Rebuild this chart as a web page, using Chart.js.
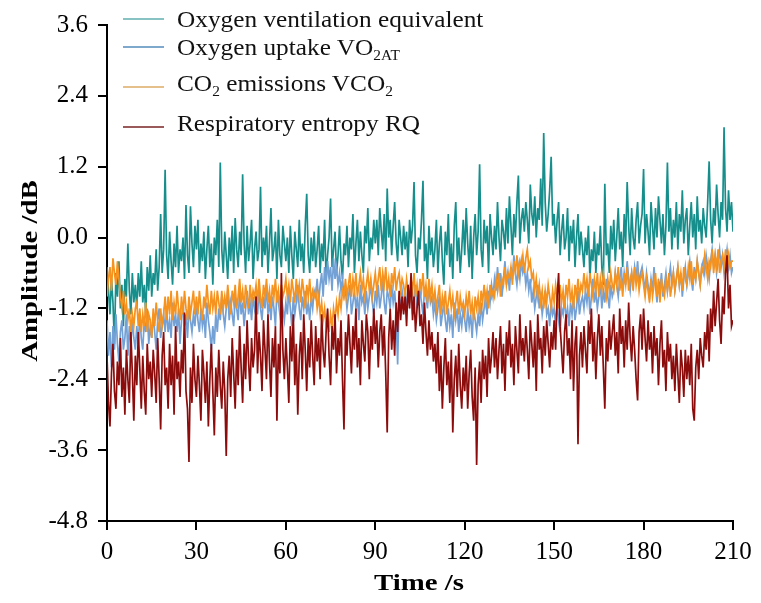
<!DOCTYPE html>
<html>
<head>
<meta charset="utf-8">
<script src="https://cdn.jsdelivr.net/npm/chart.js@4/dist/chart.umd.min.js"></script>
<style>
    body { margin: 0; background: #fff; }
    #wrap { position: relative; width: 761px; height: 603px; }
    #legend { position: absolute; left: 0; top: 0; font-family: "Liberation Serif", "Times New Roman", serif; font-size: 23px; color: #111; }
    .row { position: absolute; left: 177px; white-space: nowrap; line-height: 23px; transform: scaleX(1.1); transform-origin: left; }
    .row sub { font-size: 14px; line-height: 0; vertical-align: -5px; }
    .swatch { position: absolute; left: 123px; width: 41px; height: 1.5px; }
</style>
</head>
<body>
<div id="wrap">
    <canvas id="myChart" width="761" height="603"></canvas>
    <div id="legend">
        <div class="swatch" style="top:18px;background:#88c2c2"></div>
        <div class="row" style="top:8px">Oxygen ventilation equivalent</div>
        <div class="swatch" style="top:46px;background:#7ea9cc"></div>
        <div class="row" style="top:36px">Oxygen uptake VO<sub>2AT</sub></div>
        <div class="swatch" style="top:86px;background:#e6c08a"></div>
        <div class="row" style="top:72px">CO<sub>2</sub> emissions VCO<sub>2</sub></div>
        <div class="swatch" style="top:126px;background:#9a5a5a"></div>
        <div class="row" style="top:112px">Respiratory entropy RQ</div>
    </div>
</div>
<script>
// tick labels
const xTickLabels = ['0', '30', '60', '90', '120', '150', '180', '210'];
const yTickLabels = ['-4.8', '-3.6', '-2.4', '-1.2', '0.0', '1.2', '2.4', '3.6'];
const xTitle = 'Time /s';
const yTitle = 'Amplitude /dB';

// one sample every 0.5 s, 0..210 s (each row below = 10 s)
const time = Array.from({ length: 421 }, (_, i) => i * 0.5);

// Oxygen ventilation equivalent (teal)
const ventilation = [
    -0.5, -0.9, -1.3, -0.7, -1.1, -1.8, -0.6, -1.0, -0.4, -1.2, -0.8, -1.5, -0.7, -1.0, -0.1, -0.9, -1.3, -0.6, -1.1, -0.8,
    -1.2, -0.6, -1.0, -0.4, -1.1, -0.8, -1.3, -0.5, -0.9, -0.3, -1.0, -0.6, -0.8, -0.2, -0.9, -0.5, 0.4, -0.6, -0.2, 1.15,
    -0.3, -0.7, 0.1, -0.4, -0.8, -0.1, -0.5, 0.2, -0.6, -0.2, -0.4, 0.0, -0.7, 0.55, -0.3, -0.6, 0.53, -0.1, -0.5, 0.2,
    -0.2, 0.3, -0.6, -0.1, -0.4, 0.1, -0.7, -0.2, 0.2, -0.5, -0.1, -0.8, 0.0, -0.3, 0.3, -0.5, 1.27, -0.2, -0.6, 0.1,
    -0.3, -0.7, 0.0, -0.4, 0.2, -0.6, 0.33, -0.2, -0.5, 0.1, -0.3, 1.07, -0.1, -0.6, 0.2, -0.4, -0.1, 0.3, -0.7, -0.2,
    0.1, -0.4, -0.2, 0.86, -0.5, 0.0, -0.3, 0.2, -0.6, -0.1, 0.5, -0.4, -0.2, 0.1, -0.7, 0.3, -0.3, -0.5, 0.2, -0.1,
    -0.4, 0.0, -0.6, 0.2, -0.3, -0.7, 0.1, -0.2, -0.5, 0.3, -0.4, -0.1, -0.6, 0.2, 0.74, -0.3, -0.6, 0.0, -0.4, 0.1,
    -0.5, -0.2, 0.2, -0.6, -0.1, -0.4, 0.3, -0.7, -0.3, 0.0, 0.66, -0.5, -0.2, 0.1, -0.6, -0.3, 0.2, -0.4, -0.7, -0.1,
    -0.3, 0.2, -0.5, 0.0, -0.2, 0.4, -0.6, -0.1, 0.3, -0.4, 0.1, -0.3, -0.6, 0.2, -0.1, 0.5, -0.4, 0.0, -0.2, 0.3,
    -0.1, 0.3, -0.3, 0.5, 0.1, -0.2, 0.4, -0.4, 0.83, 0.0, 0.3, -0.3, 0.2, 0.6, -0.1, -0.4, 0.3, 0.0, -0.3, 0.2,
    -0.2, 0.1, -0.5, 0.3, -0.1, 0.2, 0.94, -0.3, -0.6, 0.0, -0.2, 0.3, 0.96, -0.4, -0.1, -0.7, 0.2, -0.3, 0.0, -0.5,
    -0.2, 0.3, -0.6, -0.1, 0.2, -0.4, -0.8, 0.1, -0.3, 0.4, -0.5, -0.1, -0.7, 0.2, 0.6, -0.4, 0.0, -0.6, -0.2, 0.3,
    -0.3, 0.5, -0.1, -0.5, 0.2, -0.7, 0.0, 0.4, -0.3, 0.1, 1.24, -0.2, -0.5, 0.3, -0.1, 0.2, -0.6, 0.4, 0.0, -0.3,
    0.2, -0.2, 0.6, 0.0, -0.4, 0.3, 0.1, -0.2, 0.5, -0.1, 0.7, 0.2, -0.3, 0.4, 0.0, 0.6, 1.05, -0.1, 0.3, 0.5,
    0.1, 0.6, 0.3, -0.1, 0.9, 0.4, 0.2, 0.7, 0.0, 0.5, 0.3, 1.0, 0.2, 1.77, 0.6, 0.1, 0.4, 0.8, 1.37, 0.2,
    0.4, -0.1, 0.3, 0.6, -0.3, 0.1, 0.4, -0.2, 0.0, 0.5, -0.4, 0.2, -0.1, 0.3, -0.5, 0.0, 0.4, -0.3, 0.1, -0.2,
    -0.5, 0.0, -0.3, 0.2, -0.7, -0.2, -0.4, 0.1, -0.6, -0.1, -0.3, 0.2, -0.5, -0.8, 0.91, -0.3, -0.1, -0.6, 0.2, -0.2,
    0.3, -0.4, 0.0, 0.5, -0.2, 0.1, -0.5, 0.4, -0.1, 0.94, 0.2, -0.3, 0.5, 0.0, -0.2, 0.3, 0.6, -0.1, 0.2, 0.4,
    1.16, -0.1, 0.4, 0.1, -0.3, 0.6, 0.2, -0.2, 0.5, 0.0, 0.7, 0.3, -0.1, 0.4, -0.3, 0.2, 1.27, 0.1, 0.5, -0.2,
    0.3, 0.0, 0.6, -0.2, 0.4, 0.1, 0.8, -0.1, 0.3, 0.5, -0.3, 0.2, 0.6, 0.0, 0.4, -0.2, 0.7, 0.1, 0.3, -0.1,
    0.5, 0.2, 0.0, 0.6, 1.29, 0.3, -0.1, 0.5, 0.2, 0.9, 0.4, 0.0, 0.6, 0.3, 1.87, 0.5, 0.1, 0.8, 0.3, 0.6,
    0.1
];

// Oxygen uptake VO2AT (light blue)
const uptake = [
    -1.4, -2.0, -1.6, -2.2, -1.5, -1.9, -1.3, -1.8, -2.1, -1.6, -1.4, -1.9, -1.7, -1.3, -2.0, -1.5, -1.8, -1.4, -1.7, -1.9,
    -1.5, -1.8, -1.3, -1.7, -1.9, -1.4, -1.6, -1.2, -1.8, -1.5, -1.7, -1.3, -1.6, -1.9, -1.4, -1.2, -1.7, -1.5, -1.3, -1.6,
    -1.2, -1.6, -1.4, -1.7, -1.1, -1.5, -1.3, -1.6, -1.2, -1.8, -1.4, -1.1, -1.5, -1.3, -1.7, -1.2, -1.4, -1.6, -1.3, -1.5,
    -1.1, -1.4, -1.6, -1.2, -1.5, -1.3, -1.7, -1.1, -1.4, -1.6, -1.9, -1.5, -1.8, -1.3, -1.6, -1.2, -1.4, -1.0, -1.3, -1.5,
    -1.2, -0.9, -1.4, -1.1, -1.3, -1.5, -1.0, -1.2, -1.4, -0.9, -1.3, -1.1, -1.5, -1.2, -0.9, -1.3, -1.1, -1.4, -1.0, -1.2,
    -1.0, -1.3, -0.9, -1.2, -1.4, -1.0, -1.2, -0.8, -1.3, -1.1, -1.4, -1.0, -1.2, -1.5, -0.9, -1.1, -1.3, -1.0, -1.2, -1.4,
    -1.1, -1.3, -0.9, -1.2, -1.5, -1.0, -1.3, -1.1, -0.8, -1.2, -1.4, -1.0, -1.2, -0.9, -1.3, -1.1, -1.4, -1.0, -1.2, -0.9,
    -1.0, -0.7, -1.1, -0.8, -0.6, -1.0, -0.5, -0.8, -0.4, -0.7, -0.5, -0.9, -0.35, -0.7, -0.5, -0.8, -0.6, -0.9, -0.7, -1.0,
    -0.9, -1.2, -1.0, -0.8, -1.3, -1.1, -0.9, -1.2, -1.0, -1.4, -0.8, -1.1, -1.0, -1.3, -0.9, -1.2, -1.0, -0.8, -1.1, -1.3,
    -0.9, -1.1, -0.8, -1.2, -1.0, -0.7, -1.1, -1.3, -0.9, -1.0, -1.2, -0.8, -1.1, -0.9, -1.3, -2.15, -1.0, -1.2, -0.9, -1.1,
    -1.0, -1.2, -0.8, -1.1, -0.9, -1.3, -1.0, -0.8, -1.2, -1.0, -0.9, -1.1, -1.3, -0.9, -1.0, -1.2, -0.8, -1.1, -1.0, -1.3,
    -1.1, -1.4, -1.2, -1.0, -1.5, -1.3, -1.1, -1.4, -1.6, -1.2, -1.5, -1.3, -1.7, -1.1, -1.4, -1.2, -1.6, -1.3, -1.5, -1.2,
    -1.4, -1.6, -1.2, -1.5, -1.3, -1.7, -1.2, -1.4, -1.6, -1.3, -1.5, -1.1, -1.4, -1.2, -1.0, -1.3, -0.9, -1.1, -0.8, -1.0,
    -0.7, -0.9, -0.5, -0.8, -0.6, -1.0, -0.7, -0.4, -0.8, -0.6, -0.9, -0.5, -0.7, -0.3, -0.6, -0.8, -0.5, -0.7, -0.4, -0.6,
    -0.5, -0.8, -0.6, -0.9, -0.7, -1.1, -0.9, -1.2, -1.0, -0.8, -1.2, -1.0, -1.3, -1.1, -0.9, -1.3, -1.2, -1.5, -1.1, -1.3,
    -1.2, -1.5, -1.1, -1.4, -1.6, -1.2, -1.3, -1.0, -1.4, -1.2, -1.5, -1.1, -1.3, -1.0, -1.4, -1.2, -0.9, -1.3, -1.1, -1.0,
    -1.2, -0.9, -1.1, -0.8, -1.3, -1.0, -0.7, -1.1, -0.9, -1.2, -1.0, -0.8, -1.2, -0.9, -1.1, -0.7, -1.0, -1.2, -0.8, -1.0,
    -0.9, -0.6, -0.8, -1.0, -0.7, -0.5, -0.9, -0.6, -0.8, -0.4, -0.7, -0.9, -0.6, -0.8, -0.5, -0.7, -0.4, -0.8, -0.6, -0.5,
    -0.7, -0.9, -0.6, -0.8, -1.0, -0.7, -0.9, -0.5, -0.8, -1.1, -0.7, -0.9, -0.6, -1.0, -0.8, -0.6, -0.9, -0.7, -0.5, -0.8,
    -0.6, -0.9, -0.7, -0.5, -0.8, -0.6, -1.0, -0.7, -0.5, -0.8, -0.6, -0.4, -0.7, -0.9, -0.5, -0.7, -0.4, -0.6, -0.8, -0.5,
    -0.4, -0.6, -0.3, -0.5, -0.7, -0.4, -0.2, -0.5, -0.3, -0.6, -0.4, -0.2, -0.5, -0.3, -0.6, -0.4, -0.2, -0.5, -0.3, -0.6,
    -0.5
];

// CO2 emissions VCO2 (orange)
const co2 = [
    -1.0, -0.7, -0.5, -0.9, -0.35, -0.6, -0.8, -0.4, -0.7, -1.0, -1.2, -0.9, -1.3, -1.1, -1.4, -1.2, -1.6, -1.3, -1.5, -1.2,
    -1.1, -1.5, -1.2, -1.6, -1.3, -1.5, -1.1, -1.6, -1.3, -1.4, -1.7, -1.2, -1.5, -1.1, -1.4, -1.6, -1.2, -1.5, -1.3, -1.0,
    -1.4, -1.0, -1.3, -0.9, -1.4, -1.1, -1.3, -0.9, -1.2, -1.4, -1.0, -1.3, -0.9, -1.2, -1.4, -1.0, -1.3, -1.1, -0.9, -1.3,
    -1.0, -1.3, -0.9, -1.2, -1.4, -1.0, -1.2, -0.8, -1.1, -1.3, -0.9, -1.2, -1.0, -1.3, -0.9, -1.1, -1.3, -0.9, -1.2, -1.0,
    -1.2, -0.8, -1.1, -1.3, -0.9, -1.1, -0.8, -1.2, -1.0, -0.7, -1.1, -0.9, -1.2, -0.8, -1.0, -1.2, -0.8, -1.1, -0.9, -1.0,
    -0.8, -1.1, -0.7, -1.0, -1.2, -0.8, -1.0, -0.7, -1.1, -0.9, -1.2, -0.8, -1.0, -0.7, -1.1, -0.9, -1.2, -0.8, -1.0, -0.9,
    -0.7, -1.0, -0.8, -1.1, -0.7, -0.9, -1.1, -0.7, -1.0, -0.8, -1.1, -0.7, -0.9, -1.2, -0.8, -1.0, -0.7, -1.1, -0.9, -1.0,
    -0.9, -1.2, -1.0, -1.3, -1.1, -1.4, -1.2, -1.5, -1.3, -1.6, -1.3, -1.5, -1.2, -1.4, -1.1, -1.3, -1.0, -1.2, -0.9, -1.0,
    -0.7, -1.0, -0.8, -0.6, -1.0, -0.7, -0.9, -0.6, -1.0, -0.8, -0.6, -0.9, -0.7, -1.0, -0.8, -0.6, -0.9, -0.7, -1.0, -0.8,
    -0.6, -0.9, -0.7, -0.5, -0.9, -0.6, -0.8, -0.5, -0.9, -0.7, -1.0, -0.6, -0.8, -0.5, -0.9, -0.7, -0.6, -0.9, -0.7, -0.8,
    -1.0, -0.7, -0.9, -1.1, -0.7, -0.9, -0.6, -1.0, -0.8, -1.1, -0.7, -0.9, -0.6, -1.0, -0.8, -1.1, -0.7, -1.0, -0.8, -1.1,
    -0.9, -1.2, -1.0, -0.8, -1.3, -1.0, -1.2, -0.9, -1.3, -1.1, -0.9, -1.2, -1.0, -1.3, -1.1, -0.9, -1.3, -1.0, -1.2, -1.1,
    -1.3, -1.0, -1.2, -0.9, -1.3, -1.1, -1.4, -1.0, -1.2, -1.0, -1.3, -0.9, -1.1, -0.8, -1.1, -0.9, -1.2, -0.8, -1.0, -0.9,
    -1.0, -0.7, -0.9, -0.6, -1.0, -0.7, -0.8, -0.5, -0.8, -0.6, -0.7, -0.5, -0.8, -0.4, -0.6, -0.3, -0.6, -0.4, -0.5, -0.3,
    -0.6, -0.35, -0.2, -0.5, -0.4, -0.7, -0.6, -0.9, -0.7, -1.0, -0.8, -1.1, -0.9, -1.2, -0.9, -1.1, -0.8, -1.0, -1.2, -0.9,
    -1.1, -0.8, -1.0, -1.2, -0.8, -1.1, -0.9, -1.2, -0.8, -1.0, -0.7, -1.1, -0.9, -1.2, -0.8, -1.0, -0.7, -1.0, -0.8, -0.9,
    -0.6, -0.9, -0.7, -1.0, -0.6, -0.8, -1.0, -0.7, -0.9, -0.6, -1.0, -0.7, -0.9, -0.6, -0.8, -1.0, -0.7, -0.9, -0.6, -0.8,
    -0.9, -0.6, -0.8, -0.5, -0.9, -0.7, -1.0, -0.6, -0.8, -0.5, -0.9, -0.7, -0.6, -0.9, -0.5, -0.8, -0.6, -0.9, -0.7, -0.6,
    -0.8, -1.0, -0.7, -0.9, -1.1, -0.7, -1.0, -0.8, -0.6, -1.0, -0.8, -1.1, -0.7, -0.9, -1.0, -0.7, -0.9, -0.6, -1.0, -0.8,
    -0.6, -0.9, -0.7, -0.5, -0.8, -0.6, -0.9, -0.5, -0.7, -0.8, -0.5, -0.7, -0.4, -0.8, -0.6, -0.7, -0.4, -0.6, -0.8, -0.5,
    -0.6, -0.3, -0.5, -0.7, -0.4, -0.5, -0.2, -0.6, -0.3, -0.5, -0.2, -0.6, -0.4, -0.3, -0.5, -0.2, -0.6, -0.3, -0.5, -0.4,
    -0.4
];

// Respiratory entropy RQ (dark red)
const rq = [
    -2.0, -2.8, -3.2, -2.3, -1.8, -2.6, -2.9, -2.1, -2.5, -1.7, -2.7, -2.2, -3.0, -1.9, -2.4, -2.8, -1.6, -2.3, -3.1, -2.0,
    -2.5, -1.6, -2.2, -2.9, -2.0, -2.6, -3.0, -1.8, -2.4, -2.1, -2.7, -1.9, -2.3, -2.8, -1.7, -2.4, -3.25, -2.0, -1.6, -2.5,
    -2.2, -2.9, -1.8, -2.5, -2.0, -3.0, -1.5, -2.4, -2.1, -2.7, -1.9, -2.3, -1.27, -2.6, -2.9, -3.8, -2.2, -2.8, -1.8, -2.4,
    -2.7, -2.0, -2.5, -3.1, -1.9, -2.3, -2.8, -2.1, -3.2, -2.4, -1.8, -2.6, -3.35, -2.2, -2.7, -1.9, -2.5, -2.9, -2.1, -2.6,
    -3.7, -2.4, -2.0, -2.7, -1.7, -2.3, -2.9, -1.9, -2.5, -1.5, -2.2, -2.8, -1.8, -2.4, -1.4, -2.1, -2.6, -1.7, -2.2, -1.9,
    -1.0, -2.3, -1.6, -2.0, -2.6, -1.4, -1.9, -2.4, -1.3, -2.1, -2.7, -1.7, -2.2, -1.5, -3.1, -1.8, -2.3, -0.6, -1.9, -2.4,
    -1.7, -2.2, -2.8, -1.5, -2.1, -1.3, -2.5, -1.8, -3.0, -2.0, -1.6, -2.4, -1.3, -1.9, -2.6, -1.7, -2.2, -1.4, -2.0, -2.5,
    -1.5, -2.1, -1.7, -2.4, -1.3, -1.9, -2.2, -1.6, -1.2, -2.0, -2.5, -1.5, -1.9, -1.3, -2.3, -1.7, -2.0, -1.4, -2.4, -3.25,
    -1.6, -2.0, -1.3, -1.8, -2.3, -1.5, -1.9, -1.2, -2.2, -1.7, -2.5, -1.4, -1.8, -2.1, -1.3, -1.6, -2.4, -1.5, -1.9, -1.2,
    -1.8, -1.4, -2.2, -1.6, -1.3, -2.0, -1.5, -2.3, -3.3, -1.7, -1.2, -1.9, -1.4, -2.0, -1.1, -1.6, -0.9, -1.4, -1.0, -1.3,
    -1.0, -1.5, -0.8, -1.2, -0.6, -1.4, -1.0, -1.6, -1.2, -0.9, -1.5, -1.3, -1.8, -1.1, -1.6, -2.0, -1.4, -1.9, -1.6, -2.1,
    -1.8, -2.3, -1.6, -2.6, -2.0, -2.9, -2.2, -1.7, -2.5, -2.1, -2.8, -1.9, -3.3, -2.4, -2.0, -2.7, -1.8, -2.5, -2.9, -2.2,
    -2.6, -2.0, -2.9, -2.3, -1.9, -2.7, -3.1, -2.2, -3.85, -2.5, -2.1, -2.8, -1.9, -2.4, -2.0, -2.7, -1.7, -2.3, -2.0, -1.6,
    -2.2, -1.7, -2.4, -1.9, -1.5, -2.3, -1.8, -2.6, -1.6, -2.0, -1.4, -2.2, -1.8, -2.5, -1.5, -1.9, -2.3, -1.3, -2.0, -1.7,
    -2.1, -1.5, -1.9, -2.4, -1.4, -1.8, -2.2, -1.6, -2.6, -1.3, -1.9, -1.7, -2.3, -1.5, -2.0, -1.4, -1.8, -2.2, -1.6, -1.9,
    -1.4, -1.9, -1.0, -0.6, -1.5, -1.9, -2.3, -1.6, -1.3, -2.0, -1.7, -2.4, -1.4, -2.6, -1.8, -1.5, -3.5, -2.0, -1.6, -2.2,
    -1.5, -1.9, -2.3, -1.4, -1.8, -1.2, -2.1, -1.6, -2.4, -1.7, -1.3, -2.0, -1.5, -2.2, -2.9, -1.7, -2.1, -1.4, -1.9, -1.6,
    -1.3, -2.0, -1.6, -2.3, -1.2, -1.8, -1.5, -2.2, -1.4, -1.9, -1.1, -1.7, -2.1, -1.5, -1.9, -2.4, -2.76, -1.6, -1.3, -1.9,
    -1.2, -1.7, -2.1, -1.4, -1.9, -1.6, -2.3, -1.5, -2.0, -1.7, -2.5, -1.8, -1.4, -2.2, -1.9, -2.6, -1.6, -2.1, -1.8, -2.4,
    -2.0, -2.6, -1.8, -2.3, -2.8, -1.9, -2.2, -2.7, -1.9, -2.4, -2.0, -2.5, -1.8, -2.9, -3.1, -2.2, -1.9, -2.4, -1.7, -2.0,
    -2.2, -1.6, -1.9, -1.3, -2.1, -1.2, -1.6, -0.9, -1.5, -1.1, -0.7, -1.4, -1.8, -1.0, -1.3, -0.6, -0.3, -1.2, -0.8, -1.5,
    -1.4
];

function toPoints(values) {
    return values.map((v, i) => ({ x: time[i], y: v }));
}

function drawStretched(ctx, txt, x, y, sx, angle) {
    ctx.save();
    ctx.translate(x, y);
    if (angle) ctx.rotate(angle);
    ctx.scale(sx, 1);
    ctx.fillText(txt, 0, 0);
    ctx.restore();
}

// axis titles, drawn by hand so they can be widened like the original
const axisTitles = {
    id: 'axisTitles',
    afterDraw(chart) {
        var ctx = chart.ctx;
        ctx.save();
        ctx.fillStyle = '#000';
        ctx.font = 'bold 24px "Liberation Serif"';
        ctx.textAlign = 'center';
        ctx.textBaseline = 'alphabetic';
        drawStretched(ctx, xTitle, 419, 590, 1.2, 0);
        drawStretched(ctx, yTitle, 37, 271, 1.2, -Math.PI / 2);
        ctx.restore();
    }
};

var ctx = document.getElementById('myChart').getContext('2d');
window.myChart = new Chart(ctx, {
    type: 'line',
    data: {
        datasets: [{
            label: 'Oxygen ventilation equivalent',
            data: toPoints(ventilation),
            borderColor: '#168f8c',
            order: 4
        }, {
            label: 'Oxygen uptake VO2AT',
            data: toPoints(uptake),
            borderColor: '#73a1d6',
            order: 3
        }, {
            label: 'CO2 emissions VCO2',
            data: toPoints(co2),
            borderColor: '#f6921e',
            order: 2
        }, {
            label: 'Respiratory entropy RQ',
            data: toPoints(rq),
            borderColor: '#8c0c0c',
            order: 1
        }]
    },
    options: {
        responsive: false,
        animation: false,
        layout: { padding: { top: 13, right: 28, left: 0, bottom: 0 } },
        elements: {
            point: { radius: 0 },
            line: { borderWidth: 1.7, tension: 0 }
        },
        plugins: {
            legend: { display: false },
            tooltip: { enabled: false }
        },
        scales: {
            x: {
                type: 'linear',
                min: 0,
                max: 210,
                afterBuildTicks: function (scale) {
                    scale.ticks = xTickLabels.map(l => ({ value: parseFloat(l) }));
                },
                afterFit: function (scale) { scale.height = 82; },
                ticks: {
                    color: '#000',
                    padding: 7,
                    font: { family: 'Liberation Serif', size: 25 },
                    maxRotation: 0,
                    callback: function (value, index) { return xTickLabels[index]; }
                },
                grid: { drawOnChartArea: false, drawTicks: true, tickLength: 9, color: '#000', lineWidth: 2 },
                border: { display: true, color: '#000', width: 2 }
            },
            y: {
                min: -4.8,
                max: 3.6,
                afterBuildTicks: function (scale) {
                    scale.ticks = yTickLabels.map(l => ({ value: parseFloat(l) }));
                },
                afterFit: function (scale) { scale.width = 107; },
                ticks: {
                    color: '#000',
                    padding: 10,
                    font: { family: 'Liberation Serif', size: 25 },
                    callback: function (value, index) { return yTickLabels[index]; }
                },
                grid: { drawOnChartArea: false, drawTicks: true, tickLength: 9, color: '#000', lineWidth: 2 },
                border: { display: true, color: '#000', width: 2 }
            }
        }
    },
    plugins: [axisTitles]
});
</script>
</body>
</html>
